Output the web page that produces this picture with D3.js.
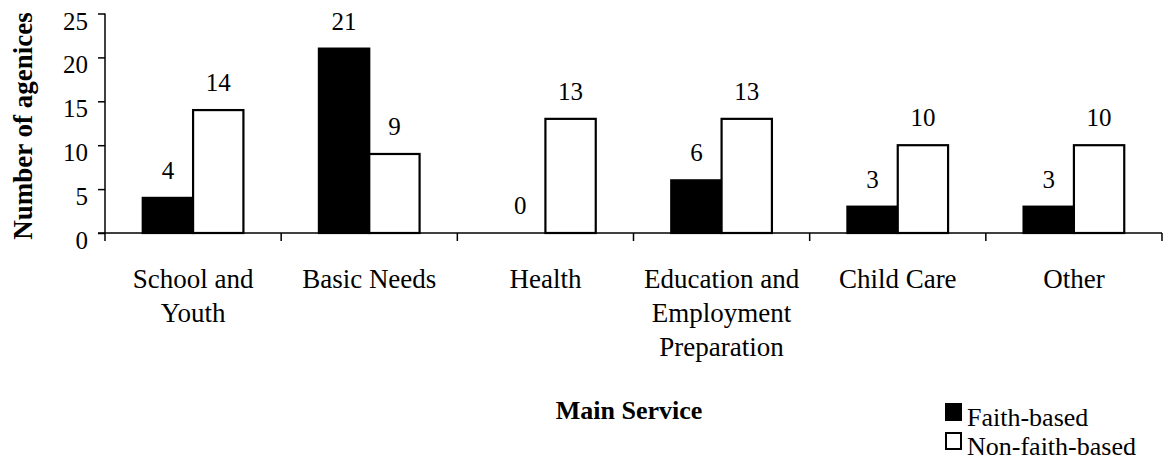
<!DOCTYPE html>
<html>
<head>
<meta charset="utf-8">
<script src="https://cdn.jsdelivr.net/npm/d3@7"></script>
<style>
  body { margin: 0; background: #fff; }
  text { font-family: "Liberation Serif", "Times New Roman", serif; fill: #000; }
</style>
</head>
<body>
<div id="chart"></div>
<script>
// Data
const categories = ["School and Youth", "Basic Needs", "Health", "Education and Employment Preparation", "Child Care", "Other"];
const categoryLines = [["School and", "Youth"], ["Basic Needs"], ["Health"], ["Education and", "Employment", "Preparation"], ["Child Care"], ["Other"]];
const seriesNames = ["Faith-based", "Non-faith-based"];
const faithBased = [4, 21, 0, 6, 3, 3];
const nonFaithBased = [14, 9, 13, 13, 10, 10];
const yTicks = [0, 5, 10, 15, 20, 25];

const width = 1167;
const height = 462;

const svg = d3.select("#chart")
    .append("svg")
    .attr("width", width)
    .attr("height", height);

// Scales
const x = d3.scaleBand()
    .domain(categories)
    .range([105, 1162])
    .padding(0);

// gap between clusters is 1.5 bar widths
const xSub = d3.scaleBand()
    .domain(seriesNames)
    .range([0, x.bandwidth()])
    .paddingInner(0)
    .paddingOuter(0.75);

const y = d3.scaleLinear()
    .domain([0, 25])
    .range([233, 13.5]);

const fill = d3.scaleOrdinal().domain(seriesNames).range(["#000", "#fff"]);

// Bars
const rows = categories.map((c, i) => ({ cat: c, values: [faithBased[i], nonFaithBased[i]] }));

const groups = svg.selectAll("g.cat")
    .data(rows)
    .enter()
    .append("g")
    .attr("class", "cat")
    .attr("transform", d => `translate(${x(d.cat)},0)`);

groups.selectAll("rect")
    .data(d => d.values.map((v, j) => ({ name: seriesNames[j], value: v })))
    .enter()
    .append("rect")
    .attr("x", d => xSub(d.name))
    .attr("y", d => y(d.value))
    .attr("width", xSub.bandwidth())
    .attr("height", d => y(0) - y(d.value))
    .attr("fill", d => fill(d.name))
    .attr("stroke", "#000")
    .attr("stroke-width", 2.2);

// Value labels
groups.selectAll("text.val")
    .data(d => d.values.map((v, j) => ({ name: seriesNames[j], value: v })))
    .enter()
    .append("text")
    .attr("class", "val")
    .attr("x", d => xSub(d.name) + xSub.bandwidth() / 2)
    .attr("y", d => y(d.value) - 19)
    .attr("text-anchor", "middle")
    .style("font-size", "25px")
    .text(d => d.value);

// Y axis
const yAxis = svg.append("g")
    .attr("transform", `translate(${x.range()[0]},0)`)
    .call(d3.axisLeft(y).tickValues(yTicks).tickSize(7).tickPadding(10));
yAxis.select(".domain").attr("stroke", "#000").attr("stroke-width", 1.5).attr("d", `M0,${y(25)}V${y(0)}`);
yAxis.selectAll(".tick line").attr("stroke", "#000").attr("stroke-width", 1.5);
yAxis.selectAll(".tick text")
    .attr("dy", "0.62em")
    .style("font-size", "25px");

// X axis with ticks at category boundaries
const bounds = categories.map(c => x(c)).concat(x.range()[1]);
svg.append("line")
    .attr("x1", x.range()[0] - 7)
    .attr("x2", x.range()[1])
    .attr("y1", y(0))
    .attr("y2", y(0))
    .attr("stroke", "#000")
    .attr("stroke-width", 1.5);
svg.selectAll("line.xtick")
    .data(bounds)
    .enter()
    .append("line")
    .attr("class", "xtick")
    .attr("x1", d => d)
    .attr("x2", d => d)
    .attr("y1", y(0))
    .attr("y2", y(0) + 8)
    .attr("stroke", "#000")
    .attr("stroke-width", 1.5);

// Category labels
const catLabels = svg.selectAll("text.catlabel")
    .data(categories)
    .enter()
    .append("text")
    .attr("class", "catlabel")
    .attr("text-anchor", "middle")
    .attr("y", 288)
    .style("font-size", "27px");

catLabels.selectAll("tspan")
    .data((d, i) => categoryLines[i].map(t => ({ t, cat: d })))
    .enter()
    .append("tspan")
    .attr("x", d => x(d.cat) + x.bandwidth() / 2)
    .attr("dy", (d, i) => i === 0 ? 0 : 34.2)
    .text(d => d.t);

// Axis titles
svg.append("text")
    .attr("transform", "translate(32, 126) rotate(-90)")
    .attr("text-anchor", "middle")
    .style("font-size", "27px")
    .style("font-weight", "bold")
    .text("Number of agenices");

svg.append("text")
    .attr("x", 629)
    .attr("y", 419)
    .attr("text-anchor", "middle")
    .style("font-size", "26px")
    .style("font-weight", "bold")
    .text("Main Service");

// Legend
const legend = svg.append("g")
    .attr("transform", "translate(945, 403)")
    .selectAll("g")
    .data(seriesNames)
    .enter()
    .append("g")
    .attr("transform", (d, i) => `translate(0, ${i * 29})`);

legend.append("rect")
    .attr("x", 1)
    .attr("y", 1)
    .attr("width", 15)
    .attr("height", 16)
    .attr("fill", fill)
    .attr("stroke", "#000")
    .attr("stroke-width", 2);

legend.append("text")
    .attr("x", 22)
    .attr("y", 23)
    .style("font-size", "26px")
    .text(d => d);
</script>
</body>
</html>
